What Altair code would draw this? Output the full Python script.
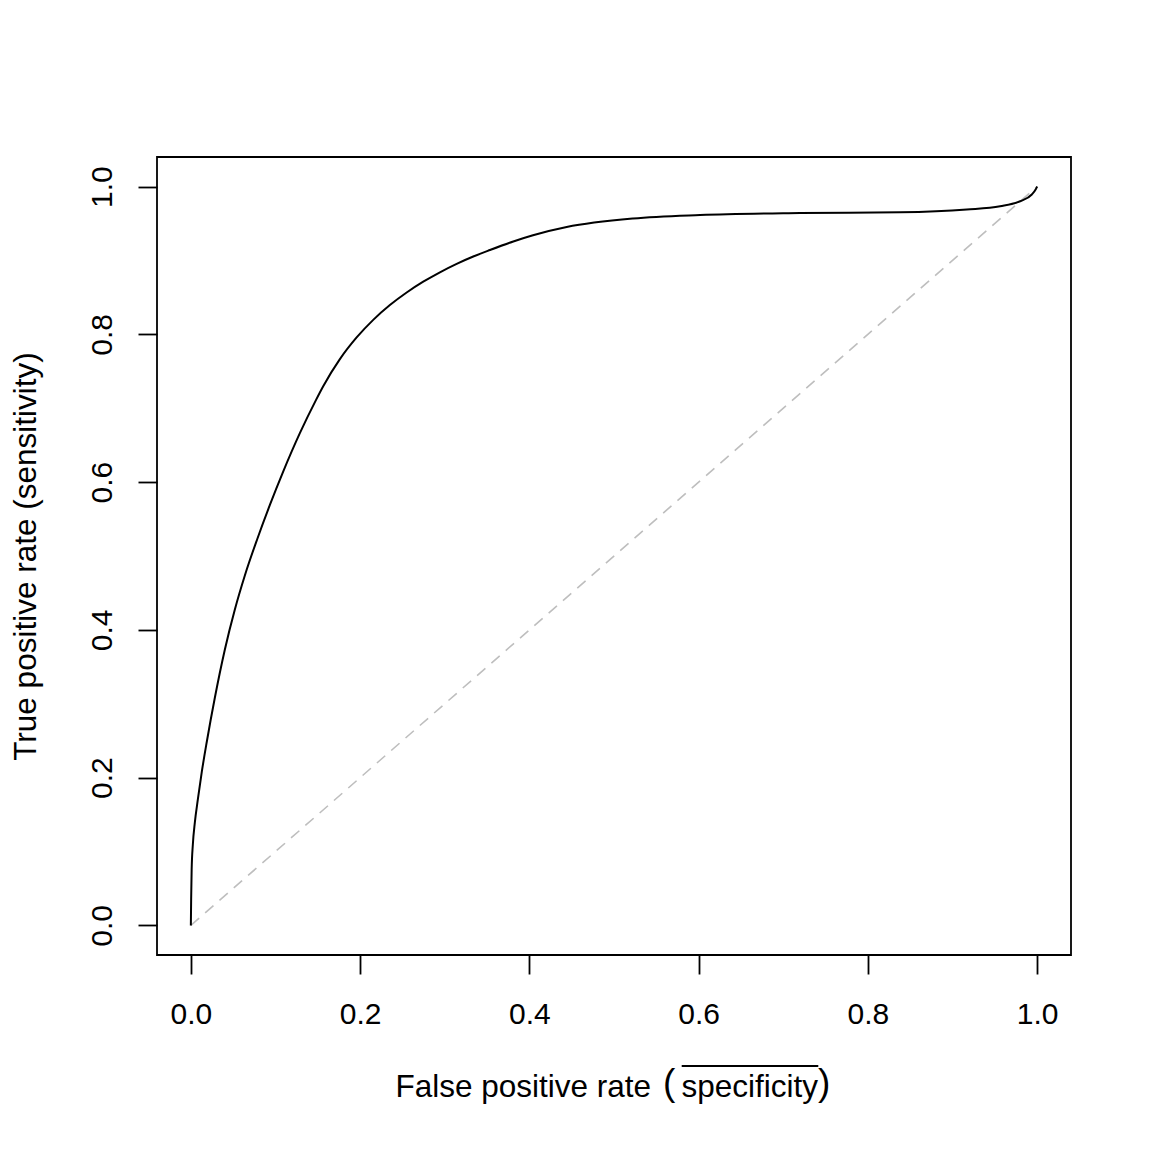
import altair as alt
import pandas as pd

# ROC curve points
fpr = [0.0, 0.00035, 0.00095, 0.00236, 0.00473, 0.00827, 0.0130, 0.0189, 0.0284,
       0.0402, 0.0520, 0.0638, 0.0784, 0.0934, 0.1091, 0.1288, 0.1478, 0.1564,
       0.1761, 0.1959, 0.2155, 0.2352, 0.2550, 0.2746, 0.2943, 0.3141, 0.3337,
       0.3534, 0.3810, 0.4043, 0.4441, 0.5225, 0.6017, 0.7199, 0.8381, 0.9169,
       0.9563, 0.9799, 0.9937, 0.9982, 1.0]
tpr = [0.0, 0.0352, 0.0758, 0.1096, 0.1394, 0.1705, 0.2084, 0.2490, 0.3085,
       0.3735, 0.4276, 0.4736, 0.5227, 0.5691, 0.6142, 0.6662, 0.7110, 0.7298,
       0.7665, 0.7958, 0.8196, 0.8396, 0.8566, 0.8712, 0.8840, 0.8954, 0.9053,
       0.9141, 0.9257, 0.9341, 0.9452, 0.9567, 0.9614, 0.9641, 0.9651, 0.9689,
       0.9733, 0.9801, 0.9892, 0.9959, 1.0]

diag_x = [0.0, 1.0]
diag_y = [0.0, 1.0]

x_ticks = [0.0, 0.2, 0.4, 0.6, 0.8, 1.0]
y_ticks = [0.0, 0.2, 0.4, 0.6, 0.8, 1.0]

x_title_main = "False positive rate"
x_title_inner = "specificity"
y_title = "True positive rate (sensitivity)"

FONT = "Liberation Sans"
TITLE_SIZE = 31.5

curve_df = pd.DataFrame({"fpr": fpr, "tpr": tpr, "i": list(range(len(fpr)))})
diag_df = pd.DataFrame({"fpr": diag_x, "tpr": diag_y, "i": [0, 1]})
one = pd.DataFrame({"k": [0]})

xscale = alt.Scale(domain=[-0.04, 1.04], nice=False, zero=False)
yscale = alt.Scale(domain=[-0.04, 1.04], nice=False, zero=False)

xaxis = alt.Axis(values=x_ticks, format=".1f", title=None, domain=False, grid=False,
                 ticks=True, tickSize=19, tickWidth=1.8, tickColor="black",
                 labelFont=FONT, labelFontSize=30, labelColor="black",
                 labelPadding=49, labelBaseline="alphabetic", labelAngle=0,
                 labelAlign="center", labelFlush=False, labelOverlap=False)

yaxis = alt.Axis(values=y_ticks, format=".1f", title=y_title, domain=False, grid=False,
                 ticks=True, tickSize=19, tickWidth=1.8, tickColor="black",
                 labelFont=FONT, labelFontSize=30, labelColor="black",
                 labelPadding=27, labelBaseline="alphabetic", labelAngle=270,
                 labelAlign="center", labelFlush=False, labelOverlap=False,
                 titleFont=FONT, titleFontSize=TITLE_SIZE, titleFontWeight="normal",
                 titleColor="black", titleAngle=270, titleX=-122, titleY=399,
                 titleAlign="center", titleBaseline="alphabetic")

curve = alt.Chart(curve_df).mark_line(color="black", strokeWidth=2, interpolate="monotone").encode(
    x=alt.X("fpr:Q", scale=xscale, axis=xaxis),
    y=alt.Y("tpr:Q", scale=yscale, axis=yaxis),
    order="i:O",
)

diag = alt.Chart(diag_df).mark_line(color="#BEBEBE", strokeWidth=1.6, strokeDash=[11, 8]).encode(
    x=alt.X("fpr:Q", scale=xscale),
    y=alt.Y("tpr:Q", scale=yscale),
    order="i:O",
)

t_main = alt.Chart(one).mark_text(text=x_title_main, font=FONT, fontSize=TITLE_SIZE, color="black",
                                  align="left", baseline="alphabetic").encode(
    x=alt.value(238.5), y=alt.value(940))
t_lp = alt.Chart(one).mark_text(text="(", font=FONT, fontSize=37, color="black",
                                align="left", baseline="alphabetic").encode(
    x=alt.value(506), y=alt.value(938))
t_inner = alt.Chart(one).mark_text(text=x_title_inner, font=FONT, fontSize=TITLE_SIZE, color="black",
                                   align="left", baseline="alphabetic").encode(
    x=alt.value(524.5), y=alt.value(940))
t_rp = alt.Chart(one).mark_text(text=")", font=FONT, fontSize=37, color="black",
                                align="left", baseline="alphabetic").encode(
    x=alt.value(661), y=alt.value(938))
overline = alt.Chart(one).mark_rule(color="black", strokeWidth=1.8).encode(
    x=alt.value(524.7), x2=alt.value(661.3), y=alt.value(909))

chart = alt.layer(diag, curve, t_main, t_lp, t_inner, t_rp, overline).properties(
    width=914, height=798,
    autosize=alt.AutoSizeParams(type="none"),
    padding={"left": 149, "top": 149, "right": 73, "bottom": 189},
    background="white",
).configure_view(stroke="black", strokeWidth=1.8)

chart.save("out.html", embed_options={"renderer": "svg", "actions": False})
